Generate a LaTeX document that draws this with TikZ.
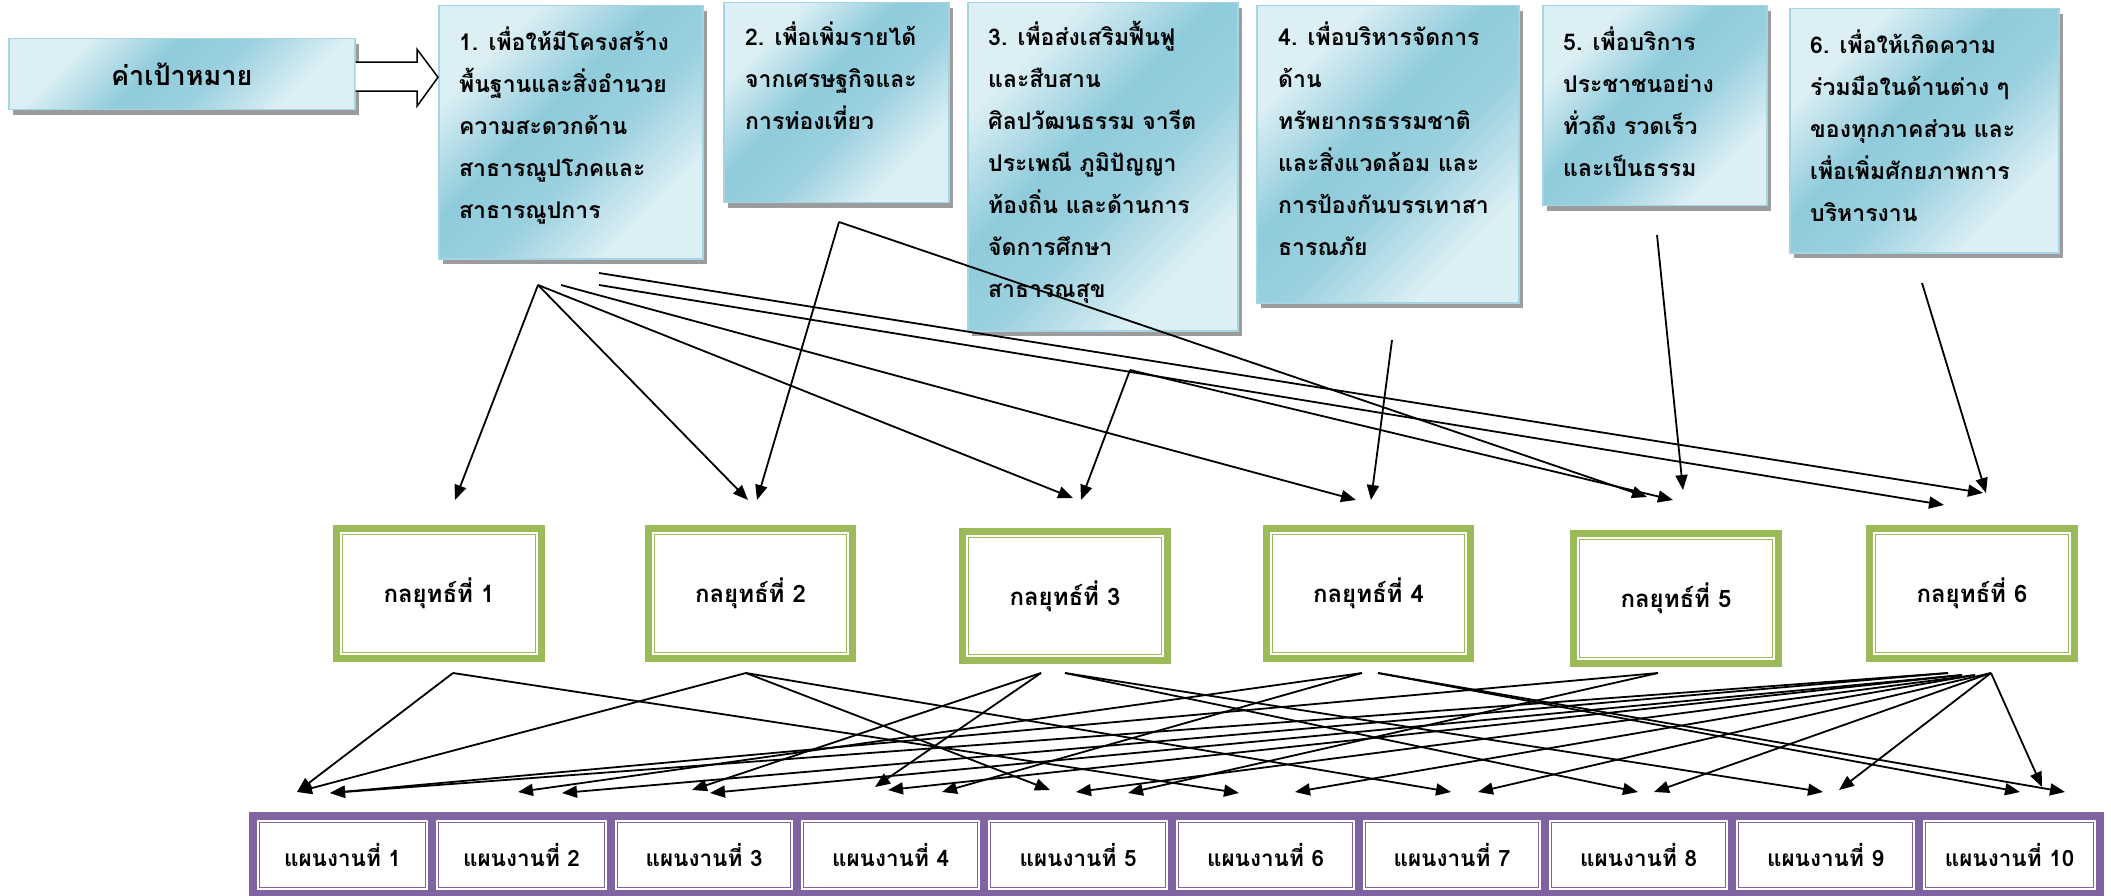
\documentclass[tikz,border=0pt]{standalone}
\usepackage{fontspec}
\newfontfamily\thai[Script=Thai]{Loma}
\usetikzlibrary{arrows.meta,calc,shadows}
\definecolor{aqL}{HTML}{DCEFF4}
\definecolor{aqD}{HTML}{8FCBDB}
\definecolor{aqE}{HTML}{A5D5E2}
\definecolor{grn}{HTML}{9BBB59}
\definecolor{purp}{HTML}{8064A2}
\definecolor{shd}{HTML}{9C9C9C}
\pgfdeclarehorizontalshading{aquash}{100bp}{color(0bp)=(aqL); color(28bp)=(aqL); color(44bp)=(aqD); color(56bp)=(aqD!85!aqL); color(72bp)=(aqL); color(100bp)=(aqL)}
\begin{document}
\begin{tikzpicture}[x=1pt,y=-1pt,
  aqua/.style={draw=aqE, line width=1.5pt, shading=aquash, shading angle=-45, inner sep=0pt, anchor=north west,
    drop shadow={shadow xshift=4pt, shadow yshift=-5pt, fill=shd, opacity=1}},
  gtext/.style={anchor=north west, inner sep=0pt, align=left, font=\thai\bfseries\fontsize{23pt}{42pt}\selectfont},
  strat/.style={draw=grn, line width=7pt, inner sep=0pt, fill=white, font=\thai\bfseries\fontsize{24pt}{30pt}\selectfont},
  plan/.style={draw=purp, line width=8pt, inner sep=0pt, fill=white, font=\thai\bfseries\fontsize{22.5pt}{26pt}\selectfont},
  arr/.style={-{Triangle[length=15pt,width=12pt]}, line width=1.8pt},
  bigarrow/.style={draw=black, fill=white, line width=1.5pt, line join=miter}
]
\useasboundingbox (0,0) rectangle (2111,896);

% ---------- target box and block arrow
\node[aqua, minimum width=346pt, minimum height=71pt, font=\thai\bfseries\fontsize{27pt}{34pt}\selectfont] (k) at (8,38) {ค่าเป้าหมาย};
\node[aqua, minimum width=264pt, minimum height=253pt] (g1) at (438,5) {};
\draw[bigarrow] ($(k.east)+(0,-12)$) -- ($(g1.west |- k.east)+(-21,-12)$) -- ++(0,-13)
  -- ($(g1.west |- k.east)+(0,3)$) -- ($(g1.west |- k.east)+(-21,32)$) -- ++(0,-15)
  -- ($(k.east)+(0,17)$);

% ---------- goal boxes
\node[aqua, minimum width=225pt, minimum height=200pt] (g2) at (723,2) {};
\node[aqua, minimum width=270pt, minimum height=328pt] (g3) at (967,2) {};
\node[aqua, minimum width=262pt, minimum height=297pt] (g4) at (1256,5) {};
\node[aqua, minimum width=224pt, minimum height=200pt] (g5) at (1542,5) {};
\node[aqua, minimum width=269pt, minimum height=244pt] (g6) at (1789,8) {};

\node[gtext] (g1t) at (459,20) {\rule{0pt}{30pt}1. เพื่อให้มีโครงสร้าง\\พื้นฐานและสิ่งอำนวย\\ความสะดวกด้าน\\สาธารณูปโภคและ\\สาธารณูปการ};
\node[gtext] (g2t) at (745,15) {\rule{0pt}{30pt}2. เพื่อเพิ่มรายได้\\จากเศรษฐกิจและ\\การท่องเที่ยว};
\node[gtext] (g3t) at (988,15) {\rule{0pt}{30pt}3. เพื่อส่งเสริมฟื้นฟู\\และสืบสาน\\ศิลปวัฒนธรรม จารีต\\ประเพณี ภูมิปัญญา\\ท้องถิ่น และด้านการ\\จัดการศึกษา\\สาธารณสุข};
\node[gtext] (g4t) at (1278,15) {\rule{0pt}{30pt}4. เพื่อบริหารจัดการ\\ด้าน\\ทรัพยากรธรรมชาติ\\และสิ่งแวดล้อม และ\\การป้องกันบรรเทาสา\\ธารณภัย};
\node[gtext] (g5t) at (1563,20) {\rule{0pt}{30pt}5. เพื่อบริการ\\ประชาชนอย่าง\\ทั่วถึง รวดเร็ว\\และเป็นธรรม};
\node[gtext] (g6t) at (1810,23) {\rule{0pt}{30pt}6. เพื่อให้เกิดความ\\ร่วมมือในด้านต่าง ๆ\\ของทุกภาคส่วน และ\\เพื่อเพิ่มศักยภาพการ\\บริหารงาน};

% ---------- strategy boxes
\node[strat, minimum width=205pt, minimum height=130pt] (s1) at (439,593.5) {กลยุทธ์ที่ 1};
\node[strat, minimum width=204pt, minimum height=130pt] (s2) at (750.5,593.5) {กลยุทธ์ที่ 2};
\node[strat, minimum width=205pt, minimum height=129pt] (s3) at (1065,596) {กลยุทธ์ที่ 3};
\node[strat, minimum width=204pt, minimum height=130pt] (s4) at (1368.5,593.5) {กลยุทธ์ที่ 4};
\node[strat, minimum width=205pt, minimum height=130pt] (s5) at (1676,598.5) {กลยุทธ์ที่ 5};
\node[strat, minimum width=205pt, minimum height=130pt] (s6) at (1972,593.5) {กลยุทธ์ที่ 6};
\foreach \s in {s1,s2,s3,s4,s5,s6}{
  \draw[grn, line width=2pt] ($(\s.north west)+(6,6)$) rectangle ($(\s.south east)+(-6,-6)$);
  \draw[grn, line width=1.2pt] ($(\s.north west)+(9.5,9.5)$) rectangle ($(\s.south east)+(-9.5,-9.5)$);
}

% ---------- plan boxes
\foreach \i/\a/\b in {1/253/432,2/432/611,3/611/797,4/797/984,5/984/1172,6/1172/1359,7/1359/1545,8/1545/1732,9/1732/1919,10/1919/2100}{
  \pgfmathsetmacro{\cx}{(\a+\b)/2}
  \pgfmathsetmacro{\w}{\b-\a}
  \node[plan, minimum width=\w pt, minimum height=78pt] (p\i) at (\cx,855) {แผนงานที่ \i};
}
\foreach \i in {1,...,10}{
  \draw[purp, line width=2pt] ($(p\i.north west)+(7,7)$) rectangle ($(p\i.south east)+(-7,-7)$);
  \draw[purp, line width=1.2pt] ($(p\i.north west)+(10.5,10.5)$) rectangle ($(p\i.south east)+(-10.5,-10.5)$);
}

% ---------- connector end points (goals -> strategies)
\foreach \n/\x/\y in {g1a/538/285, g1b/561/285, g1c/599/285, g1d/599/273, g2a/839/222,
   g3a/1130/370, g4a/1392/340, g5a/1657/235, g6a/1922/283,
   u1/455/500, u2a/748/500, u2b/757/500, u3a/1073/498, u3b/1081/500, u4a/1356/500, u4b/1371/500,
   u5a/1647/497, u5b/1673/500, u5c/1683/490, u6a/1944/505, u6b/1983/493, u6c/1986/493}
  \coordinate (\n) at (\x,\y);
\draw[arr] (g1a) -- (u1);
\draw[arr] (g1a) -- (u2a);
\draw[arr] (g1a) -- (u3a);
\draw[arr] (g1b) -- (u4a);
\draw[arr] (g1c) -- (u6a);
\draw[arr] (g1d) -- (u6b);
\draw[arr] (g2a) -- (u2b);
\draw[arr] (g2a) -- (u5a);
\draw[arr] (g3a) -- (u3b);
\draw[arr] (g3a) -- (u5b);
\draw[arr] (g4a) -- (u4b);
\draw[arr] (g5a) -- (u5c);
\draw[arr] (g6a) -- (u6c);

% ---------- connector end points (strategies -> plans)
\foreach \n/\x/\y in {a1/453/673, a2/746/673, a3/1041/673, a3b/1065/673, a4/1362/673, a4b/1378/673,
   a5/1658/673, a6/1991/673, a6b/1948/673, a6c/1962/675, a6d/1975/675,
   v1a/297/792, v1b/330/793, v2a/518/792, v2b/562/793, v3a/692/790, v3b/710/793,
   v4a/875/787, v4b/888/790, v4c/942/792, v5a/1050/790, v5b/1076/792, v5c/1128/793,
   v6a/1239/793, v6b/1295/792, v7a/1451/792, v7b/1478/792, v8a/1638/792, v8b/1654/792,
   v9a/1823/792, v9b/1839/790, v10a/2020/792, v10b/2042/787, v10c/2065/792}
  \coordinate (\n) at (\x,\y);
\draw[arr] (a1) -- (v1a);
\draw[arr] (a1) -- (v6a);
\draw[arr] (a2) -- (v1a);
\draw[arr] (a2) -- (v5a);
\draw[arr] (a2) -- (v7a);
\draw[arr] (a3) -- (v3a);
\draw[arr] (a3) -- (v4a);
\draw[arr] (a3b) -- (v8a);
\draw[arr] (a3b) -- (v9a);
\draw[arr] (a4) -- (v2a);
\draw[arr] (a4) -- (v4c);
\draw[arr] (a4b) -- (v10a);
\draw[arr] (a4b) -- (v10c);
\draw[arr] (a5) -- (v1b);
\draw[arr] (a5) -- (v5c);
\draw[arr] (a6b) -- (v1b);
\draw[arr] (a6b) -- (v2b);
\draw[arr] (a6c) -- (v3b);
\draw[arr] (a6c) -- (v4b);
\draw[arr] (a6d) -- (v5b);
\draw[arr] (a6d) -- (v6b);
\draw[arr] (a6) -- (v7b);
\draw[arr] (a6) -- (v8b);
\draw[arr] (a6) -- (v9b);
\draw[arr] (a6) -- (v10b);
\end{tikzpicture}
\end{document}
